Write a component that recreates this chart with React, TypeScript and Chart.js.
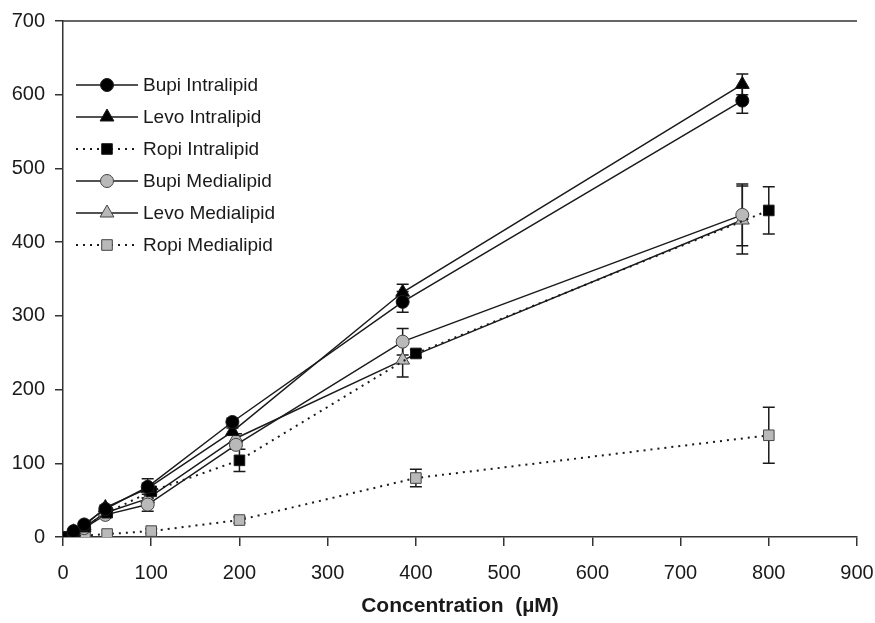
import React, { useEffect, useRef } from 'react';
import { Chart, registerables } from 'chart.js';
import { drawPoint } from 'chart.js/helpers';
Chart.register(...registerables);

const seriesNames = ['Bupi Intralipid', 'Levo Intralipid', 'Ropi Intralipid', 'Bupi Medialipid', 'Levo Medialipid', 'Ropi Medialipid'];

const bupiLevoX = [12, 24, 48, 96, 192, 385, 770];
const medX = [12, 24, 48, 96, 196, 385, 770];
const ropiX = [0, 12.5, 25, 50, 100, 200, 400, 800];

const bupiIntraY = [8, 17, 38, 68, 156, 319, 592];
const levoIntraY = [7, 15, 40, 66, 143, 332, 614];
const ropiIntraY = [0, 6, 14, 33, 62, 104, 249, 443];
const bupiMedY = [5, 12, 30, 44, 125, 265, 437];
const levoMedY = [6, 13, 33, 52, 134, 240, 430];
const ropiMedY = [0, 1, 2, 4, 8, 23, 80, 138];

const bupiIntraErr = [1, 2, 3, 5, 5, 14, 17];
const levoIntraErr = [1, 2, 3, 13, 5, 11, 14];
const ropiIntraErr = [0, 0, 1, 2, 4, 15, 5, 32];
const bupiMedErr = [1, 2, 3, 9, 6, 18, 42];
const levoMedErr = [1, 2, 3, 6, 6, 23, 46];
const ropiMedErr = [0, 0, 0, 0, 3, 4, 12, 38];

const xTicks = [0, 100, 200, 300, 400, 500, 600, 700, 800, 900];
const yTicks = [0, 100, 200, 300, 400, 500, 600, 700];

const FONT = "'Liberation Sans', Arial, sans-serif";
const GRAY = '#b9b9b9';
const INK = '#1a1a1a';

const pts = (xs: number[], ys: number[]) => xs.map((x, i) => ({ x, y: ys[i] }));

const errorBarPlugin = {
  id: 'errorBars',
  beforeDatasetsDraw(chart: any) {
    const ctx = chart.ctx;
    const yScale = chart.scales.y;
    ctx.save();
    ctx.strokeStyle = INK;
    ctx.lineWidth = 1.5;
    chart.data.datasets.forEach((ds: any, i: number) => {
      const meta = chart.getDatasetMeta(i);
      (ds.errors || []).forEach((e: number, j: number) => {
        if (!e) return;
        const el = meta.data[j];
        const v = ds.data[j].y;
        const top = yScale.getPixelForValue(v + e);
        const bot = yScale.getPixelForValue(v - e);
        const x = el.x;
        ctx.beginPath();
        ctx.moveTo(x, top); ctx.lineTo(x, bot);
        ctx.moveTo(x - 6, top); ctx.lineTo(x + 6, top);
        ctx.moveTo(x - 6, bot); ctx.lineTo(x + 6, bot);
        ctx.stroke();
      });
    });
    ctx.restore();
  },
};

const frameAndLegendPlugin = {
  id: 'frameLegend',
  afterDraw(chart: any) {
    const ctx = chart.ctx;
    const area = chart.chartArea;
    ctx.save();
    ctx.strokeStyle = '#333';
    ctx.lineWidth = 1.5;
    ctx.beginPath();
    ctx.moveTo(area.left, area.top);
    ctx.lineTo(area.right, area.top);
    ctx.stroke();
    chart.data.datasets.forEach((ds: any, i: number) => {
      const y = area.top + 64 + 32 * i;
      const x0 = area.left + 13;
      const x1 = area.left + 75;
      const xm = area.left + 44;
      ctx.save();
      ctx.strokeStyle = INK;
      ctx.lineWidth = ds.borderWidth;
      ctx.setLineDash(ds.borderDash || []);
      ctx.beginPath();
      ctx.moveTo(x0, y); ctx.lineTo(x1, y);
      ctx.stroke();
      ctx.setLineDash([]);
      ctx.fillStyle = ds.pointBackgroundColor;
      ctx.strokeStyle = ds.pointBorderColor;
      ctx.lineWidth = ds.pointBorderWidth;
      drawPoint(ctx, { pointStyle: ds.pointStyle, radius: ds.pointRadius, rotation: 0, borderWidth: ds.pointBorderWidth }, xm, y);
      ctx.restore();
      ctx.fillStyle = INK;
      ctx.font = `19px ${FONT}`;
      ctx.textBaseline = 'middle';
      ctx.textAlign = 'left';
      ctx.fillText(ds.label, area.left + 80, y + 1);
    });
    ctx.restore();
  },
};

export default function App() {
  const ref = useRef<HTMLCanvasElement>(null);
  useEffect(() => {
    if (!ref.current) return;
    const mk = (i: number, xs: number[], ys: number[], errs: number[], style: string, fill: string, dashed: boolean, r: number) => ({
      label: seriesNames[i],
      data: pts(xs, ys),
      errors: errs,
      borderColor: INK,
      borderWidth: dashed ? 2 : 1.5,
      borderDash: dashed ? [2, 5] : [],
      pointStyle: style,
      pointRadius: r,
      pointBackgroundColor: fill,
      pointBorderColor: fill === GRAY ? '#444' : INK,
      pointBorderWidth: 1,
      tension: 0,
      fill: false,
    });
    const chart = new Chart(ref.current, {
      type: 'line',
      data: {
        datasets: [
          mk(0, bupiLevoX, bupiIntraY, bupiIntraErr, 'circle', '#000', false, 6.5),
          mk(1, bupiLevoX, levoIntraY, levoIntraErr, 'triangle', '#000', false, 8),
          mk(2, ropiX, ropiIntraY, ropiIntraErr, 'rect', '#000', true, 7.5),
          mk(3, medX, bupiMedY, bupiMedErr, 'circle', GRAY, false, 6.5),
          mk(4, medX, levoMedY, levoMedErr, 'triangle', GRAY, false, 8),
          mk(5, ropiX, ropiMedY, ropiMedErr, 'rect', GRAY, true, 7.5),
        ] as any,
      },
      options: {
        responsive: false,
        animation: false,
        layout: { padding: { top: 21, right: 18, left: 0, bottom: 0 } },
        plugins: { legend: { display: false }, tooltip: { enabled: false }, title: { display: false } },
        scales: {
          x: {
            type: 'linear',
            min: 0,
            max: 900,
            afterBuildTicks: (s: any) => { s.ticks = xTicks.map((v) => ({ value: v })); },
            afterFit: (s: any) => { s.height = 86; s.paddingLeft = 0; s.paddingRight = 0; },
            grid: { display: true, drawOnChartArea: false, drawTicks: true, tickLength: 9, color: '#333', lineWidth: 1.5 },
            border: { display: true, color: '#333', width: 1.5 },
            ticks: { color: INK, font: { family: FONT, size: 20 }, padding: 15, maxRotation: 0 },
            title: { display: true, text: 'Concentration  (µM)', color: INK, font: { family: FONT, size: 21, weight: 'bold' }, padding: { top: 4, bottom: 4 } },
          },
          y: {
            type: 'linear',
            min: 0,
            max: 700,
            afterBuildTicks: (s: any) => { s.ticks = yTicks.map((v) => ({ value: v })); },
            afterFit: (s: any) => { s.width = 63; s.paddingTop = 0; s.paddingBottom = 0; },
            grid: { display: true, drawOnChartArea: false, drawTicks: true, tickLength: 8, color: '#333', lineWidth: 1.5 },
            border: { display: true, color: '#333', width: 1.5 },
            ticks: { color: INK, font: { family: FONT, size: 20 }, padding: 10 },
          },
        },
      },
      plugins: [errorBarPlugin, frameAndLegendPlugin],
    } as any);
    return () => chart.destroy();
  }, []);
  return (
    <div style={{ position: 'fixed', left: 0, top: 0, width: 875, height: 623, background: '#fff' }}>
      <canvas ref={ref} width={875} height={623} />
    </div>
  );
}
